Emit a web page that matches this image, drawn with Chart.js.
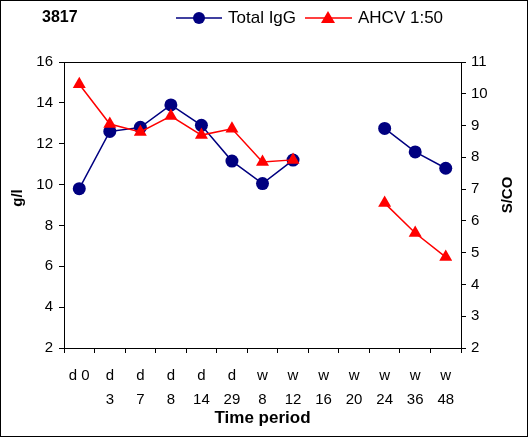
<!DOCTYPE html>
<html>
<head>
<meta charset="utf-8">
<script src="https://cdn.jsdelivr.net/npm/chart.js@4.4.0/dist/chart.umd.min.js"></script>
<style>
html, body { margin: 0; padding: 0; background: #fff; }
</style>
</head>
<body>
<canvas id="chart" width="528" height="437"></canvas>
<script>
// chart data
const chartTitle = '3817';
const timeLabels = [['d 0'], ['d', '3'], ['d', '7'], ['d', '8'], ['d', '14'], ['d', '29'],
    ['w', '8'], ['w', '12'], ['w', '16'], ['w', '20'], ['w', '24'], ['w', '36'], ['w', '48']];
const iggLabel = 'Total IgG';
const ahcvLabel = 'AHCV 1:50';
const totalIgG = [9.8, 12.6, 12.8, 13.9, 12.9, 11.15, 10.05, 11.2, null, null, 12.75, 11.6, 10.8];
const ahcv = [10.3, 9.05, 8.8, 9.3, 8.7, 8.9, 7.85, 7.92, null, null, 6.56, 5.62, 4.86];
const leftRange = [2, 16];
const rightRange = [2, 11];

const FONT = '"Liberation Sans", Arial, sans-serif';
const NAVY = '#000080';
const RED = '#ff0000';

// frame, header and rotated axis titles
const decorations = {
    id: 'decorations',
    afterDraw(chart) {
        const ctx = chart.ctx;
        const a = chart.chartArea;
        ctx.save();
        ctx.strokeStyle = '#000';
        ctx.lineWidth = 1;
        ctx.strokeRect(0.5, 0.5, chart.width - 1, chart.height - 1);
        ctx.beginPath();
        ctx.moveTo(a.left, a.top + 0.5);
        ctx.lineTo(a.right, a.top + 0.5);
        ctx.stroke();

        ctx.fillStyle = '#000';
        ctx.textBaseline = 'middle';
        ctx.font = 'bold 16px ' + FONT;
        ctx.fillText(chartTitle, 42, 18);

        // legend
        ctx.lineWidth = 1.5;
        ctx.strokeStyle = NAVY;
        ctx.beginPath(); ctx.moveTo(176, 18); ctx.lineTo(222, 18); ctx.stroke();
        ctx.fillStyle = NAVY;
        ctx.beginPath(); ctx.arc(199, 18, 6, 0, Math.PI * 2); ctx.fill();
        ctx.strokeStyle = RED;
        ctx.beginPath(); ctx.moveTo(305, 18); ctx.lineTo(352, 18); ctx.stroke();
        ctx.fillStyle = RED;
        ctx.beginPath(); ctx.moveTo(328, 11); ctx.lineTo(335, 23); ctx.lineTo(321, 23); ctx.closePath(); ctx.fill();
        ctx.fillStyle = '#000';
        ctx.font = '17px ' + FONT;
        ctx.fillText(iggLabel, 228, 18);
        ctx.fillText(ahcvLabel, 358, 18);

        // y titles, both reading bottom to top
        ctx.font = 'bold 15px ' + FONT;
        ctx.textAlign = 'center';
        ctx.save();
        ctx.translate(18, 198);
        ctx.rotate(-Math.PI / 2);
        ctx.fillText('g/l', 0, 0);
        ctx.restore();
        ctx.save();
        ctx.translate(508, 195);
        ctx.rotate(-Math.PI / 2);
        ctx.fillText('S/CO', 0, 0);
        ctx.restore();
        ctx.restore();
    }
};

const axisGrid = {
    drawOnChartArea: false,
    color: '#000',
    tickColor: '#000',
    tickLength: 5
};

new Chart(document.getElementById('chart'), {
    type: 'line',
    data: {
        labels: timeLabels,
        datasets: [{
            label: iggLabel,
            data: totalIgG,
            yAxisID: 'y',
            borderColor: NAVY,
            backgroundColor: NAVY,
            borderWidth: 1.5,
            pointStyle: 'circle',
            pointRadius: 6.5,
            pointBorderWidth: 0,
            order: 1
        }, {
            label: ahcvLabel,
            data: ahcv,
            yAxisID: 'y2',
            borderColor: RED,
            backgroundColor: RED,
            borderWidth: 1.5,
            pointStyle: 'triangle',
            pointRadius: 7.5,
            pointBorderWidth: 0,
            order: 0
        }]
    },
    options: {
        responsive: false,
        animation: false,
        spanGaps: false,
        layout: { padding: { top: 62, left: 0, right: 0, bottom: 0 } },
        plugins: {
            legend: { display: false },
            tooltip: { enabled: false }
        },
        scales: {
            x: {
                offset: true,
                grid: Object.assign({ offset: true }, axisGrid),
                border: { color: '#000', width: 1 },
                ticks: {
                    color: '#000',
                    font: { family: FONT, size: 15, lineHeight: 1.65 },
                    maxRotation: 0,
                    autoSkip: false,
                    padding: 10
                },
                title: {
                    display: true,
                    text: 'Time period',
                    color: '#000',
                    font: { family: FONT, size: 17, weight: 'bold' },
                    padding: { top: 0, bottom: 8 }
                },
                afterFit(scale) { scale.height = 89; }
            },
            y: {
                position: 'left',
                min: leftRange[0],
                max: leftRange[1],
                grid: axisGrid,
                border: { color: '#000', width: 1 },
                ticks: {
                    stepSize: 2,
                    color: '#000',
                    font: { family: FONT, size: 15 },
                    padding: 6
                },
                afterFit(scale) { scale.width = 64; }
            },
            y2: {
                position: 'right',
                min: rightRange[0],
                max: rightRange[1],
                grid: axisGrid,
                border: { color: '#000', width: 1 },
                ticks: {
                    stepSize: 1,
                    color: '#000',
                    font: { family: FONT, size: 15 },
                    padding: 5
                },
                afterFit(scale) { scale.width = 67; }
            }
        }
    },
    plugins: [decorations]
});
</script>
</body>
</html>
